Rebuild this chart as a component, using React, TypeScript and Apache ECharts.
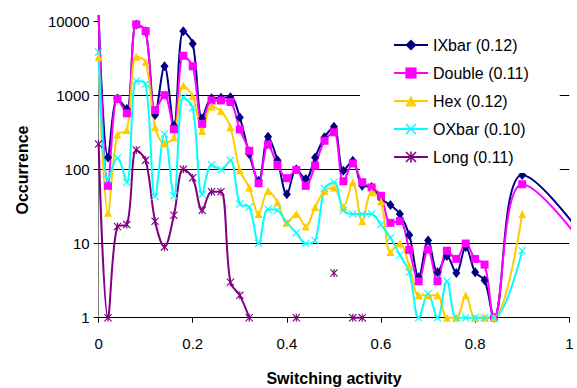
import React, { useEffect, useRef } from 'react';
import * as echarts from 'echarts';

const xs = [0, 0.02, 0.04, 0.06, 0.08, 0.1, 0.12, 0.14, 0.16, 0.18, 0.2, 0.22, 0.24, 0.26, 0.28, 0.3, 0.32, 0.34, 0.36, 0.38, 0.4, 0.42, 0.44, 0.46, 0.48, 0.5, 0.52, 0.54, 0.56, 0.58, 0.6, 0.62, 0.64, 0.66, 0.68, 0.7, 0.72, 0.74, 0.76, 0.78, 0.8, 0.82, 0.84, 0.9, 1.1];

const ixbar = [12000, 145, 900, 650, 9000, 7300, 540, 2450, 390, 7300, 4950, 485, 910, 920, 940, 500, 161, 70, 275, 133, 46, 100, 74, 145, 270, 375, 96, 131, 60, 58, 40, 33, 25, 13, 3.5, 11, 4.1, 6.8, 4, 9, 4.1, 3.2, 1, 84, 3];
const double = [12000, 60, 890, 570, 9000, 7300, 630, 1000, 347, 3400, 2450, 410, 850, 850, 810, 345, 178, 65, 215, 115, 76, 98, 60, 112, 243, 316, 69, 120, 67, 57, 44, 19, 20, 8.2, 3.1, 8.3, 3.1, 8, 6.2, 10, 6.2, 5.2, 1, 63, 2.4];
const hex = [3240, 26, 295, 340, 3300, 2800, 370, 224, 270, 1350, 970, 330, 705, 610, 370, 97, 57, 25, 51, 36, 19, 25, 17, 31, 51, 57, 31, 67, 20, 49, 37, 7.7, 10, 5, 2, 2, 2, 1, 1, 2, 1, 1, 1, 25, null];
const oxbar = [3800, 73, 142, 67, 1550, 1410, 43, 300, 44, 930, 675, 46, 115, 99, 132, 34, 31, 10, 29, 28, 19, 14, 10, 11, 55, 67, 28, 25, 25, 25, 18, 12, 7, 4.1, 1, 2.1, 1, 3.1, 1, 1, 1, 1, 1, 8, null];
const long = [219, 1, 17, 18, 182, 133, 20, 9, 24, 100, 77, 28, 50, 50, 3, 2, 1, null, null, null, null, 1, null, null, null, 4, null, 1, 1, null, null, null, null, null, null, null, null, null, null, null, null, null, null, null, null];

const seriesNames = ['IXbar (0.12)', 'Double (0.11)', 'Hex (0.12)', 'OXbar (0.10)', 'Long (0.11)'];
const yTickLabels = ['1', '10', '100', '1000', '10000'];
const xTitle = 'Switching activity';
const yTitle = 'Occurrence';

const X_PATH = 'path://M0,1 L1,0 L5,4 L9,0 L10,1 L6,5 L10,9 L9,10 L5,6 L1,10 L0,9 L4,5 Z';
const STAR_PATH = 'path://M0,1 L1,0 L5,4 L9,0 L10,1 L6,5 L10,9 L9,10 L5,6 L1,10 L0,9 L4,5 Z M4.3,0 L5.7,0 L5.7,10 L4.3,10 Z';

function build(vals: (number | null)[]) {
  return xs.map((x, k) => {
    const v = vals[k];
    if (v == null) return [x, '-'];
    if (v > 10000) return { value: [x, v], symbol: 'none' };
    return [x, v];
  });
}

const FONT = 'Arial, "Liberation Sans", sans-serif';

export default function App() {
  const ref = useRef<HTMLDivElement>(null);
  useEffect(() => {
    const chart = echarts.init(ref.current!, null, { renderer: 'svg' });
    const colors = ['#000080', '#FF00FF', '#FFCC00', '#00FFFF', '#800080'];
    const symbols = ['diamond', 'rect', 'triangle', X_PATH, STAR_PATH];
    const sizes: any[] = [[8, 10], 8, 8, 8, 8];
    const datas = [ixbar, double, hex, oxbar, long];
    chart.setOption({
      animation: false,
      backgroundColor: '#fff',
      grid: { left: 98.6, right: 7.7, top: 21, bottom: 70.3, containLabel: false },
      xAxis: {
        type: 'value',
        min: 0,
        max: 1,
        interval: 0.2,
        axisLine: { show: true, onZero: false, lineStyle: { color: '#000', width: 1 } },
        axisTick: { show: true, inside: false, length: 5, lineStyle: { color: '#000' } },
        axisLabel: { color: '#000', fontSize: 15, fontFamily: FONT, margin: 18 },
        splitLine: { show: false },
      },
      yAxis: {
        type: 'log',
        logBase: 10,
        min: 1,
        max: 10000,
        axisLine: { show: true, lineStyle: { color: '#808080', width: 1 } },
        axisTick: { show: true, inside: false, length: 5, lineStyle: { color: '#000' } },
        axisLabel: {
          color: '#000', fontSize: 15, fontFamily: FONT, margin: 9,
          formatter: (v: number) => yTickLabels[Math.round(Math.log10(v))] ?? String(v),
        },
        splitLine: { show: true, lineStyle: { color: ['#000', '#000', '#000', '#000', 'rgba(0,0,0,0)'], width: 1 } },
      },
      legend: {
        orient: 'vertical',
        left: 360,
        top: 24,
        padding: [13, 31, 8, 33],
        backgroundColor: '#fff',
        itemWidth: 34,
        itemHeight: 14,
        itemGap: 12,
        selectedMode: false,
        data: seriesNames,
        textStyle: { color: '#000', fontSize: 16, fontFamily: FONT, lineHeight: 16 },
      },
      graphic: [
        { type: 'text', x: 334, y: 378, style: { text: xTitle, font: `bold 16px ${FONT}`, fill: '#000', align: 'center', verticalAlign: 'middle' } },
        { type: 'text', x: 22, y: 170, rotation: Math.PI / 2, style: { text: yTitle, font: `bold 16px ${FONT}`, fill: '#000', align: 'center', verticalAlign: 'middle' } },
      ],
      series: seriesNames.map((name, i) => ({
        name,
        type: 'line',
        data: build(datas[i]),
        smooth: 0.35,
        clip: false,
        connectNulls: false,
        symbol: symbols[i],
        symbolSize: sizes[i],
        showAllSymbol: true,
        lineStyle: { color: colors[i], width: 2 },
        itemStyle: { color: colors[i] },
        emphasis: { disabled: true },
      })),
    });
    return () => chart.dispose();
  }, []);
  return <div ref={ref} style={{ position: 'fixed', left: 0, top: 0, width: 577, height: 388, background: '#fff' }} />;
}
